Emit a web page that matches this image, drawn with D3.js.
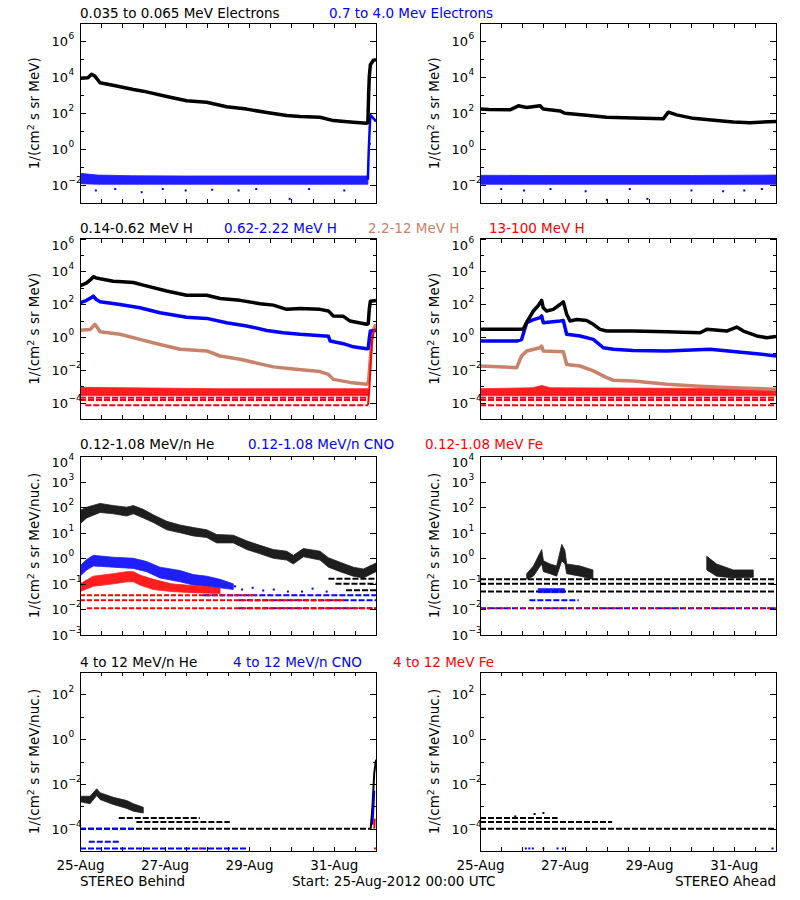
<!DOCTYPE html>
<html><head><meta charset="utf-8">
<script src="https://cdn.jsdelivr.net/npm/d3@7"></script>
<style>body{margin:0;background:#fff} text{font-family:"DejaVu Sans",sans-serif;}</style>
</head><body><svg id="c" width="800" height="900"></svg>
<script>
// ---------------- DATA (hours since 25-Aug-2012 00:00 UTC, values) ----------------
const xTickHours = [0,12,24,36,48,60,72,84,96,108,120,132,144,156,168];
const xLabelHours = [0,48,96,144];
const startTime = Date.UTC(2012,7,25,0,0);

// Row 1: electrons
const eLowBehind = [[0,9e3],[4.5,9.5e3],[6.6,1.5e4],[8.3,1.2e4],[11.4,5e3],[20.8,3.3e3],[30.3,2.1e3],[35.9,1.7e3],[49.2,8.5e2],[60.5,5e2],[71.9,4.1e2],[83.2,2.3e2],[94.6,1.7e2],[106,1.1e2],[117.3,7.4e1],[124.9,6.5e1],[136.2,6e1],[143.8,3.9e1],[155.1,3.2e1],[162.7,2.8e1],[163.4,3e1],[163.8,1e3],[164.2,1.1e4],[164.8,5e4],[166.5,9e4],[168,9.5e4]];
const eHighBehindBand = [[0,0.012,0.045],[10,0.011,0.036],[30,0.011,0.033],[60,0.011,0.032],[100,0.011,0.032],[140,0.011,0.032],[163.4,0.011,0.032]];
const eHighBehindSpike = [[163.4,0.02],[163.8,0.5],[164.3,8],[164.8,80],[166,60],[168,35]];
const eHighBehindDots = [[9,0.005],[20,0.006],[35,0.004],[47,0.006],[60,0.005],[75,0.0055],[90,0.005],[100,0.006],[119,0.0017],[130,0.006],[150,0.005],[164.5,15],[164.5,2]];
const eLowAhead = [[0,1.7e2],[5,1.6e2],[17,1.55e2],[21.8,2.6e2],[26.5,2.1e2],[34.1,2.6e2],[35.9,1.7e2],[45.4,1.35e2],[48.2,1.0e2],[60.5,7.8e1],[71.9,6e1],[87,5.5e1],[104,4.9e1],[106.9,1.15e2],[111.6,8.1e1],[121,5.2e1],[134.3,3.9e1],[143.8,3.3e1],[153.3,3e1],[168,3.5e1]];
const eHighAheadBand = [[0,0.011,0.035],[40,0.011,0.034],[80,0.011,0.034],[120,0.011,0.034],[168,0.011,0.036]];
const eHighAheadDots = [[12,0.006],[25,0.005],[40,0.006],[60,0.0045],[72,0.0015],[85,0.006],[95,0.0017],[120,0.005],[138,0.0045],[150,0.005],[160,0.006]];

// Row 2: protons
const pLowBehind = [[0,1.3e3],[3.8,2e3],[6.5,3.5e3],[7.6,4.7e3],[9,4e3],[11.4,3.5e3],[18.9,2.5e3],[24,2.3e3],[30.3,2.1e3],[35.9,1.45e3],[49.2,6.3e2],[60.5,3.5e2],[71.9,3.5e2],[79.5,2.2e2],[90.8,1.7e2],[102.2,1.05e2],[109.7,8.7e1],[117.3,4.8e1],[124.9,5.5e1],[136.2,4.8e1],[141,3.8e1],[143.8,1.9e1],[149.5,1.8e1],[153.3,9.3],[162.7,5.9],[163.6,6.5],[164.2,5e1],[164.8,1.5e2],[168,1.7e2]];
const pMidBehind = [[0,1.2e2],[3.8,1.7e2],[6.5,2.5e2],[7.6,3.1e2],[9,2e2],[11.4,1.4e2],[22.7,9.5e1],[34,6e1],[45.4,3e1],[60.5,1.6e1],[71.9,1.35e1],[83.2,7.4],[94.6,4.7],[106,2.5],[115.4,1.8],[124.9,1.45],[141,1.1],[142,0.56],[149.5,0.39],[155.1,0.25],[162.7,0.19],[163.6,0.2],[164.2,0.8],[164.8,2.3],[168,2.5]];
const pHighBehind = [[0,2.6],[5.7,2.8],[8.5,5.9],[11.4,2.1],[22.7,1.45],[34,0.71],[45.4,0.35],[56.8,0.18],[71.9,0.14],[79.5,0.069],[90.8,0.044],[102.2,0.023],[109.7,0.015],[121.1,0.011],[136.2,0.0078],[141,0.0052],[143.8,0.0026],[153.3,0.0017],[162.7,0.0013],[163.8,0.002],[164.8,0.05],[165.8,2],[168,6]];
const pTopBehindBand = [[0,2.6e-4,8.5e-4],[80,2.6e-4,7e-4],[163.5,2.6e-4,7e-4]];
const pTopBehindLevels = [[0,163.5,2.0e-4],[0,163.5,1.45e-4],[3,163.5,7e-5]];
const pTopBehindSpike = [[163.5,7e-5],[164.3,1e-3],[165,0.03],[165.8,0.6],[166.8,2.5],[168,3.2]];
const pLowAhead = [[0,2.9],[20.8,2.9],[24.6,3.0],[27,10],[30.3,38],[33,80],[35,1.7e2],[35.9,60],[37.8,38],[41.6,48],[45.4,95],[47.3,1.4e2],[49.2,24],[51.1,9.3],[54.9,11.7],[60.5,10],[64.3,5.9],[68.1,2.9],[71.9,2.3],[87,2.3],[106,2.1],[124.9,1.8],[128.7,2.9],[140,2.3],[145.7,4],[149.5,2.3],[157.1,1.15],[162.7,0.9],[168,1.05]];
const pMidAhead = [[0,0.56],[20.8,0.56],[23.6,0.7],[26.5,7.4],[30,11],[34.1,15],[35,19],[35.9,7.4],[45.4,9.3],[47.3,10],[49.2,1.45],[56.8,1.15],[64.3,0.71],[70,0.22],[75.7,0.18],[87,0.15],[106,0.14],[130.6,0.18],[143.8,0.13],[157.1,0.095],[168,0.069]];
const pHighAhead = [[0,0.017],[20.8,0.0135],[23.6,0.069],[26.5,0.14],[34.1,0.22],[35,0.28],[35.9,0.14],[47.3,0.126],[49.2,0.021],[56.8,0.017],[64.3,0.0085],[71.9,0.0033],[75.7,0.0023],[87,0.0021],[106,0.0013],[124.9,0.001],[143.8,8.1e-4],[168,6.5e-4]];
const pTopAheadBand = [[0,2.6e-4,7e-4],[30,2.6e-4,8e-4],[35,2.6e-4,1.1e-3],[40,2.6e-4,8e-4],[168,2.6e-4,7e-4]];
const pTopAheadLevels = [[0,168,2.0e-4],[0,168,1.45e-4],[0,168,7e-5]];

// Row 3: 0.12-1.08 MeV/n ions
const heLowBehindBand = [[0,22,74],[3.8,38,100],[11.4,62,140],[18.9,55,115],[26.5,45,100],[30.3,55,115],[35.9,38,82],[41.6,25,50],[49.2,13,28],[56.8,10,20],[64.3,7.5,16],[71.9,6.5,13],[77.6,4,8.5],[87,4,8],[94.6,2.2,4.8],[102.2,1.5,3.2],[109.7,1.0,2.2],[117.3,0.85,1.9],[121.1,0.6,1.3],[126.8,1.15,2.4],[136.2,0.85,1.9],[141,0.45,1.05],[147.6,0.3,0.7],[155.1,0.2,0.45],[160.8,0.17,0.38],[168,0.3,0.65]];
const heLowBehindLevels = [[141,168,0.16],[145,168,0.10],[151,168,0.056]];
const cnoLowBehindBand = [[0,0.2,0.5],[3.8,0.35,0.9],[7.6,0.5,1.3],[18.9,0.45,1.1],[30.3,0.4,1.0],[37.8,0.3,0.75],[45.4,0.17,0.45],[56.8,0.12,0.33],[64.3,0.09,0.23],[71.9,0.08,0.2],[79.5,0.07,0.15],[87,0.06,0.1]];
const cnoLowBehindLevels = [[70,168,0.036],[90,168,0.023],[90,168,0.011]];
const cnoLowBehindDots = [[88,0.08],[92,0.06],[98,0.07],[104,0.055],[110,0.06],[118,0.05],[126,0.05],[132,0.065],[140,0.05]];
const feLowBehindBand = [[0,0.05,0.1],[7.6,0.08,0.2],[18.9,0.1,0.25],[26.5,0.12,0.3],[30.3,0.12,0.3],[34,0.09,0.22],[41.6,0.06,0.15],[52,0.05,0.1],[64.3,0.045,0.085],[79.5,0.042,0.07]];
const feLowBehindLevels = [[0,100,0.036],[0,150,0.023],[4,168,0.011]];
const heLowAheadLevels = [[0,168,0.15],[0,168,0.10],[0,168,0.05]];
const heLowAheadBurst1 = [[26.5,0.15,0.25],[30.3,0.2,0.5],[35,0.6,2.2],[36,0.3,0.8],[39.7,0.25,0.6],[43.5,0.2,0.5],[46.4,0.8,3.5],[48.2,0.6,2],[49.2,0.25,0.6],[56.8,0.2,0.5],[64.1,0.15,0.35]];
const heLowAheadBurst2 = [[128.7,0.35,1.2],[134.3,0.2,0.6],[143.8,0.17,0.35],[155.1,0.18,0.35]];
const cnoLowAheadBand = [[33,0.045,0.065],[48,0.045,0.065]];
const cnoLowAheadLevels = [[28,56,0.023],[0,168,0.011]];
const feLowAheadLevels = [[0,168,0.011]];

// Row 4: 4-12 MeV/n ions
const heHighBehindBand = [[0,1.6e-3,2.8e-3],[5.7,1.3e-3,2.8e-3],[9.5,3e-3,6e-3],[11.4,2e-3,4e-3],[18.9,1.2e-3,2.5e-3],[26.5,8e-4,1.8e-3],[30.3,6e-4,1.3e-3],[35.9,5e-4,9e-4]];
const heHighBehindLevels = [[22,68,3e-4],[32,85,2e-4],[0,165,1e-4]];
const heHighBehindSpike = [[165,1e-4],[166,1e-3],[167,3e-2],[168,0.12]];
const cnoHighBehindLevels = [[0,30,1e-4],[5,23,2.6e-5],[0,95,1.3e-5]];
const cnoHighBehindSpike = [[166,1.5e-4],[166.6,1e-3],[167,5e-3]];
const feHighBehindSpike = [[167,1e-4],[167.3,2.8e-4]];
const feHighBehindDots = [[68,1.3e-5],[167.5,1.3e-5]];
const heHighAheadLevels = [[0,44,3e-4],[0,75,2e-4],[0,168,1e-4]];
const heHighAheadDots = [[0,4.5e-4],[20,3.5e-4],[31,4.5e-4],[36,5e-4]];
const cnoHighAheadDots = [[0,1.3e-5],[26,1.3e-5],[28,1.3e-5],[30,1.3e-5],[44,1.3e-5],[47,1.3e-5],[166,1.3e-5]];
const feHighAheadDots = [[36,1.3e-5]];

// ---------------- LAYOUT ----------------
const BLACK="#000000", BLUE="#0000ff", TAN="#c8826a", RED="#ff0000";
const cols = [{x0:80,x1:376},{x0:480,x1:776}];
const rows = [
  {y0:23.5,y1:203,dom:[1e-3,1e7],labels:[-2,0,2,4,6],minor:[-1,1,3,5],unit:"MeV)",legY:18,
   legend:[["0.035 to 0.065 MeV Electrons",BLACK,80],["0.7 to 4.0 Mev Electrons",BLUE,329]]},
  {y0:238.5,y1:419,dom:[1e-5,1e6],labels:[-4,-2,0,2,4,6],minor:[-3,-1,1,3,5],unit:"MeV)",legY:233,
   legend:[["0.14-0.62 MeV H",BLACK,80],["0.62-2.22 MeV H",BLUE,224],["2.2-12 MeV H",TAN,368],["13-100 MeV H",RED,489]]},
  {y0:456,y1:635,dom:[1e-3,1e4],labels:[-3,-2,-1,0,1,2,3,4],minor:[],unit:"MeV/nuc.)",legY:449,
   legend:[["0.12-1.08 MeV/n He",BLACK,80],["0.12-1.08 MeV/n CNO",BLUE,248],["0.12-1.08 MeV Fe",RED,425]]},
  {y0:672,y1:851,dom:[1e-5,1e3],labels:[-4,-2,0,2],minor:[-3,-1,1],unit:"MeV/nuc.)",legY:667,
   legend:[["4 to 12 MeV/n He",BLACK,80],["4 to 12 MeV/n CNO",BLUE,233],["4 to 12 MeV Fe",RED,393]]}
];
// layers per [row][col]
const layers = [
  [
    [{t:"band",d:eHighBehindBand,c:BLUE},{t:"dots",d:eHighBehindDots,c:BLUE},{t:"line",d:eHighBehindSpike,c:BLUE,w:2.5},{t:"line",d:eLowBehind,c:BLACK,w:3.5}],
    [{t:"band",d:eHighAheadBand,c:BLUE},{t:"dots",d:eHighAheadDots,c:BLUE},{t:"line",d:eLowAhead,c:BLACK,w:3.5}]
  ],
  [
    [{t:"band",d:pTopBehindBand,c:RED},{t:"level",d:pTopBehindLevels,c:RED},{t:"line",d:pHighBehind,c:TAN,w:3.5},{t:"line",d:pMidBehind,c:BLUE,w:3.5},{t:"line",d:pLowBehind,c:BLACK,w:3.5},{t:"line",d:pTopBehindSpike,c:RED,w:2}],
    [{t:"band",d:pTopAheadBand,c:RED},{t:"level",d:pTopAheadLevels,c:RED},{t:"line",d:pHighAhead,c:TAN,w:3.5},{t:"line",d:pMidAhead,c:BLUE,w:3.5},{t:"line",d:pLowAhead,c:BLACK,w:3.5}]
  ],
  [
    [{t:"band",d:heLowBehindBand,c:BLACK},{t:"level",d:heLowBehindLevels,c:BLACK},{t:"band",d:cnoLowBehindBand,c:BLUE},{t:"level",d:cnoLowBehindLevels,c:BLUE},{t:"dots",d:cnoLowBehindDots,c:BLUE},{t:"band",d:feLowBehindBand,c:RED},{t:"level",d:feLowBehindLevels,c:RED,dash:"5,2"}],
    [{t:"level",d:heLowAheadLevels,c:BLACK},{t:"band",d:heLowAheadBurst1,c:BLACK},{t:"band",d:heLowAheadBurst2,c:BLACK},{t:"band",d:cnoLowAheadBand,c:BLUE},{t:"level",d:cnoLowAheadLevels,c:BLUE},{t:"level",d:feLowAheadLevels,c:RED,dash:"3,4"}]
  ],
  [
    [{t:"band",d:heHighBehindBand,c:BLACK},{t:"level",d:heHighBehindLevels,c:BLACK},{t:"line",d:heHighBehindSpike,c:BLACK,w:2},{t:"level",d:cnoHighBehindLevels,c:BLUE},{t:"line",d:cnoHighBehindSpike,c:BLUE,w:2},{t:"line",d:feHighBehindSpike,c:RED,w:2},{t:"dots",d:feHighBehindDots,c:RED}],
    [{t:"level",d:heHighAheadLevels,c:BLACK},{t:"dots",d:heHighAheadDots,c:BLACK},{t:"dots",d:cnoHighAheadDots,c:BLUE},{t:"dots",d:feHighAheadDots,c:RED}]
  ]
];

// ---------------- DRAW ----------------
const svg = d3.select("#c");
svg.append("rect").attr("width",800).attr("height",900).attr("fill","#fff");
const FS = 13.5;

rows.forEach((row, ri) => {
  // legend
  row.legend.forEach(([txt,col,x]) => {
    svg.append("text").attr("x",x).attr("y",row.legY).attr("fill",col).attr("font-size",FS).text(txt);
  });
  cols.forEach((colg, ci) => {
    const x = d3.scaleUtc().domain([new Date(startTime), new Date(startTime+168*3.6e6)]).range([colg.x0, colg.x1]);
    const hx = h => x(new Date(startTime + h*3.6e6));
    const y = d3.scaleLog().domain(row.dom).range([row.y1, row.y0]);
    const g = svg.append("g");
    const cid = `clip${ri}${ci}`;
    svg.append("clipPath").attr("id",cid).append("rect")
      .attr("x",colg.x0).attr("y",row.y0).attr("width",colg.x1-colg.x0).attr("height",row.y1-row.y0);
    const pg = g.append("g").attr("clip-path",`url(#${cid})`);

    layers[ri][ci].forEach(L => {
      if (L.t==="line") {
        pg.append("path").datum(L.d)
          .attr("d", d3.line().x(d=>hx(d[0])).y(d=>y(d[1])))
          .attr("fill","none").attr("stroke",L.c).attr("stroke-width",L.w)
          .attr("stroke-linejoin","round");
      } else if (L.t==="band") {
        pg.append("path").datum(L.d)
          .attr("d", d3.area().x(d=>hx(d[0])).y0(d=>y(d[1])).y1(d=>y(d[2])))
          .attr("fill",L.c).attr("stroke",L.c).attr("stroke-width",0.8).attr("opacity",0.88);
      } else if (L.t==="level") {
        pg.selectAll(null).data(L.d).join("line")
          .attr("x1",d=>hx(d[0])).attr("x2",d=>hx(d[1]))
          .attr("y1",d=>y(d[2])).attr("y2",d=>y(d[2]))
          .attr("stroke",L.c).attr("stroke-width",2).attr("stroke-dasharray",L.dash||"6,2");
      } else if (L.t==="dots") {
        pg.selectAll(null).data(L.d).join("rect")
          .attr("x",d=>hx(d[0])-1).attr("y",d=>y(d[1])-1).attr("width",2).attr("height",2).attr("fill",L.c);
      }
    });

    // frame
    g.append("rect").attr("x",colg.x0+0.5).attr("y",row.y0).attr("width",colg.x1-colg.x0).attr("height",row.y1-row.y0)
      .attr("fill","none").attr("stroke","#000").attr("stroke-width",1).attr("shape-rendering","crispEdges");

    // x ticks top & bottom
    const tickDates = xTickHours.map(h => new Date(startTime + h*3.6e6));
    const axB = g.append("g").attr("transform",`translate(0,${row.y1})`)
      .call(d3.axisBottom(x).tickValues(tickDates).tickSize(-4).tickFormat(""));
    const axT = g.append("g").attr("transform",`translate(0,${row.y0})`)
      .call(d3.axisTop(x).tickValues(tickDates).tickSize(-4).tickFormat(""));
    [axB,axT].forEach(a => { a.select(".domain").remove(); a.selectAll("line").attr("stroke","#000").attr("shape-rendering","crispEdges"); });

    // y ticks left & right
    const majorVals = row.labels.map(e => Math.pow(10,e));
    const minorVals = row.minor.map(e => Math.pow(10,e));
    const axL = g.append("g").attr("transform",`translate(${colg.x0},0)`)
      .call(d3.axisLeft(y).tickValues(majorVals).tickSize(-6).tickFormat(""));
    const axLm = g.append("g").attr("transform",`translate(${colg.x0},0)`)
      .call(d3.axisLeft(y).tickValues(minorVals).tickSize(-3.5).tickFormat(""));
    const axR = g.append("g").attr("transform",`translate(${colg.x1},0)`)
      .call(d3.axisRight(y).tickValues(majorVals).tickSize(-6).tickFormat(""));
    const axRm = g.append("g").attr("transform",`translate(${colg.x1},0)`)
      .call(d3.axisRight(y).tickValues(minorVals).tickSize(-3.5).tickFormat(""));
    [axL,axLm,axR,axRm].forEach(a => { a.select(".domain").remove(); a.selectAll("line").attr("stroke","#000").attr("shape-rendering","crispEdges"); });

    // y tick labels 10^e
    row.labels.forEach(e => {
      let ty = y(Math.pow(10,e));
      if (ty - row.y0 < 4) ty += 6;   // label at the top edge sits a little lower
      const lx = colg.x0 - 12;
      g.append("text").attr("x",lx).attr("y",ty+5).attr("text-anchor","end").attr("font-size",13).text("10");
      g.append("text").attr("x",lx+0.5).attr("y",ty-2).attr("text-anchor","start").attr("font-size",9)
        .text(e<0 ? "\u2212"+(-e) : String(e));
    });

    // y title
    const cy = (row.y0+row.y1)/2;
    const tt = g.append("text").attr("transform",`translate(${colg.x0-41},${cy}) rotate(-90)`)
      .attr("text-anchor","middle").attr("font-size",FS);
    tt.append("tspan").text("1/(cm");
    tt.append("tspan").attr("dy",-5).attr("font-size",9.5).text("2");
    tt.append("tspan").attr("dy",5).text(" s sr " + row.unit);

    // bottom date labels
    if (ri === rows.length-1) {
      const fmt = d3.utcFormat("%d-%b");
      const axLab = g.append("g").attr("transform",`translate(0,${row.y1})`)
        .call(d3.axisBottom(x).tickValues(xLabelHours.map(h=>new Date(startTime+h*3.6e6))).tickSize(0).tickPadding(9).tickFormat(fmt));
      axLab.select(".domain").remove();
      axLab.selectAll("text").attr("font-size",FS).attr("font-family","DejaVu Sans").attr("fill","#000");
    }
  });
});

svg.append("text").attr("x",80).attr("y",886).attr("font-size",FS).text("STEREO Behind");
svg.append("text").attr("x",292).attr("y",886).attr("font-size",FS).text("Start: 25-Aug-2012 00:00 UTC");
svg.append("text").attr("x",776).attr("y",886).attr("text-anchor","end").attr("font-size",FS).text("STEREO Ahead");
</script></body></html>
